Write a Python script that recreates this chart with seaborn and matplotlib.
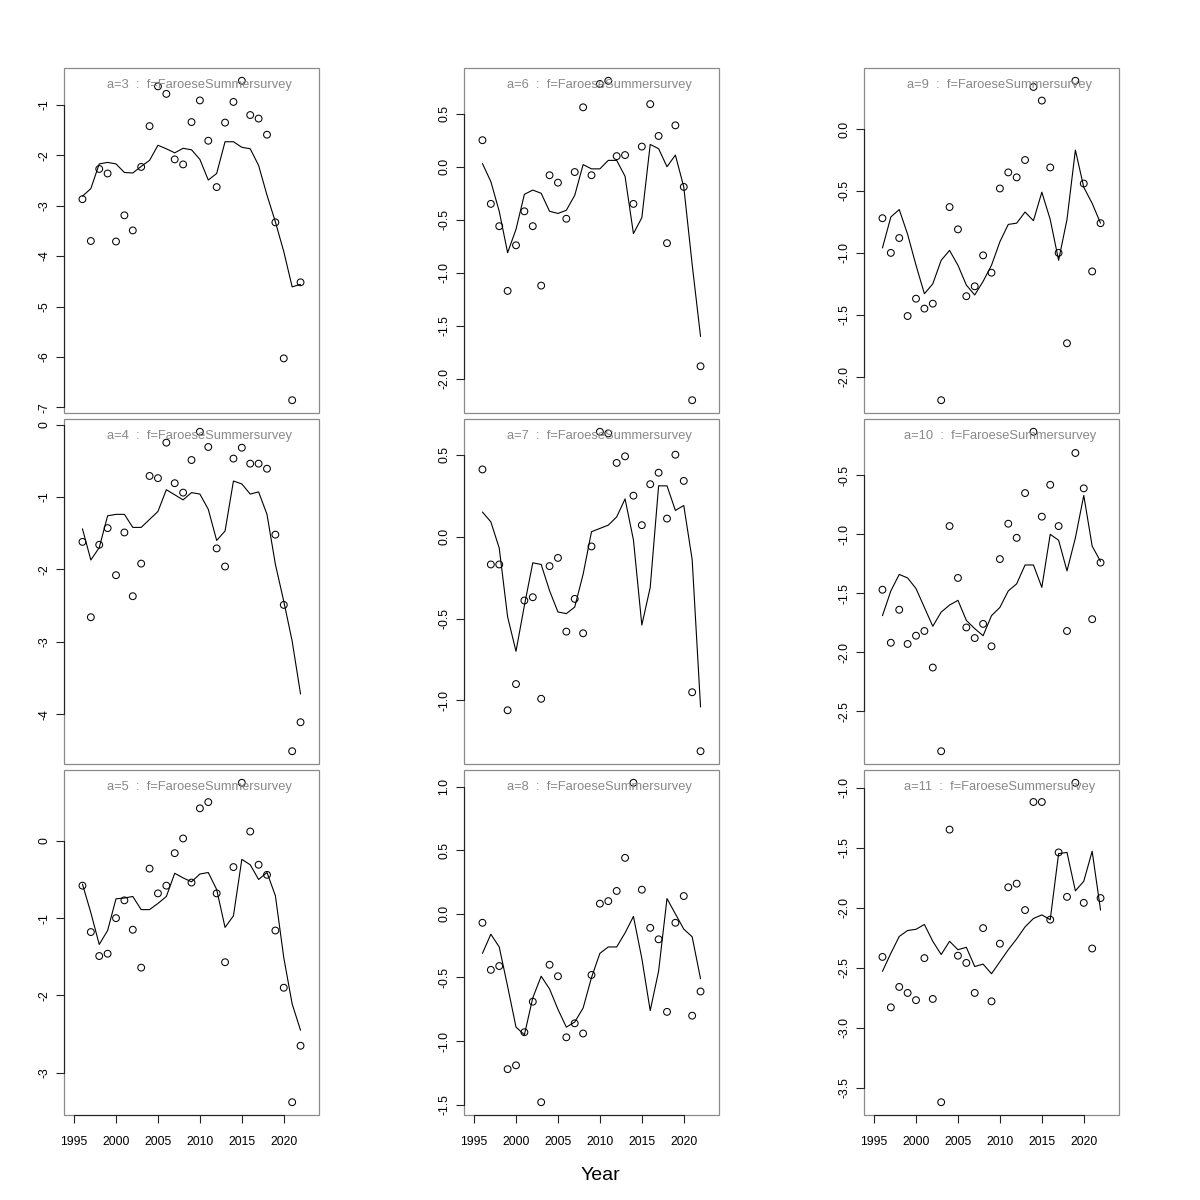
import matplotlib
matplotlib.use("Agg")
import matplotlib.pyplot as plt
import seaborn as sns
from matplotlib.patches import Rectangle

years = [1996, 1997, 1998, 1999, 2000, 2001, 2002, 2003, 2004, 2005, 2006, 2007, 2008, 2009,
         2010, 2011, 2012, 2013, 2014, 2015, 2016, 2017, 2018, 2019, 2020, 2021, 2022]
xticks = [1995, 2000, 2005, 2010, 2015, 2020]
fleet = "FaroeseSummersurvey"

obs_a3 = [-2.87, -3.70, -2.27, -2.36, -3.71, -3.19, -3.49, -2.23, -1.42, -0.63, -0.78, -2.08, -2.18, -1.34,
          -0.91, -1.71, -2.63, -1.35, -0.94, -0.52, -1.20, -1.27, -1.59, -3.33, -6.03, -6.86, -4.52]
fit_a3 = [-2.81, -2.66, -2.17, -2.14, -2.17, -2.34, -2.35, -2.22, -2.10, -1.80, -1.87, -1.95, -1.86, -1.89,
          -2.08, -2.49, -2.36, -1.73, -1.73, -1.84, -1.87, -2.20, -2.79, -3.32, -3.91, -4.61, -4.56]
yt_a3 = [-7, -6, -5, -4, -3, -2, -1]

obs_a4 = [-1.62, -2.66, -1.66, -1.43, -2.08, -1.49, -2.37, -1.92, -0.71, -0.74, -0.25, -0.81, -0.94, -0.49,
          -0.10, -0.31, -1.71, -1.96, -0.47, -0.32, -0.54, -0.54, -0.61, -1.52, -2.49, -4.51, -4.11]
fit_a4 = [-1.44, -1.87, -1.70, -1.26, -1.24, -1.24, -1.42, -1.42, -1.31, -1.20, -0.90, -0.97, -1.04, -0.94,
          -0.96, -1.17, -1.60, -1.47, -0.78, -0.82, -0.96, -0.93, -1.24, -1.93, -2.44, -2.99, -3.72]
yt_a4 = [-4, -3, -2, -1, 0]

obs_a5 = [-0.58, -1.18, -1.49, -1.46, -1.00, -0.77, -1.15, -1.64, -0.36, -0.68, -0.58, -0.16, 0.03, -0.54,
          0.42, 0.50, -0.68, -1.57, -0.34, 0.75, 0.12, -0.31, -0.44, -1.16, -1.90, -3.38, -2.65]
fit_a5 = [-0.56, -0.93, -1.34, -1.16, -0.75, -0.74, -0.72, -0.89, -0.89, -0.81, -0.72, -0.42, -0.48, -0.53,
          -0.43, -0.41, -0.63, -1.12, -0.97, -0.24, -0.31, -0.50, -0.41, -0.71, -1.51, -2.11, -2.45]
yt_a5 = [-3, -2, -1, 0]

obs_a6 = [0.25, -0.35, -0.56, -1.17, -0.74, -0.42, -0.56, -1.12, -0.08, -0.15, -0.49, -0.05, 0.56, -0.08,
          0.78, 0.81, 0.10, 0.11, -0.35, 0.19, 0.59, 0.29, -0.72, 0.39, -0.19, -2.20, -1.88]
fit_a6 = [0.03, -0.14, -0.42, -0.81, -0.59, -0.26, -0.22, -0.25, -0.42, -0.44, -0.41, -0.27, 0.02, -0.02,
          -0.02, 0.06, 0.06, -0.09, -0.63, -0.48, 0.21, 0.17, 0.00, 0.11, -0.19, -0.92, -1.60]
yt_a6 = [-2.0, -1.5, -1.0, -0.5, 0.0, 0.5]

obs_a7 = [0.41, -0.17, -0.17, -1.06, -0.90, -0.39, -0.37, -0.99, -0.18, -0.13, -0.58, -0.38, -0.59, -0.06,
          0.64, 0.63, 0.45, 0.49, 0.25, 0.07, 0.32, 0.39, 0.11, 0.50, 0.34, -0.95, -1.31]
fit_a7 = [0.15, 0.09, -0.07, -0.49, -0.70, -0.42, -0.16, -0.17, -0.33, -0.46, -0.47, -0.43, -0.23, 0.03,
          0.05, 0.07, 0.12, 0.23, -0.02, -0.54, -0.31, 0.31, 0.31, 0.16, 0.19, -0.14, -1.04]
yt_a7 = [-1.0, -0.5, 0.0, 0.5]

obs_a8 = [-0.07, -0.44, -0.41, -1.22, -1.19, -0.93, -0.69, -1.48, -0.40, -0.49, -0.97, -0.86, -0.94, -0.48,
          0.08, 0.10, 0.18, 0.44, 1.03, 0.19, -0.11, -0.20, -0.77, -0.07, 0.14, -0.80, -0.61]
fit_a8 = [-0.31, -0.16, -0.26, -0.57, -0.89, -0.95, -0.66, -0.49, -0.59, -0.75, -0.89, -0.85, -0.74, -0.50,
          -0.31, -0.26, -0.26, -0.15, -0.02, -0.35, -0.76, -0.45, 0.12, 0.00, -0.12, -0.18, -0.51]
yt_a8 = [-1.5, -1.0, -0.5, 0.0, 0.5, 1.0]

obs_a9 = [-0.72, -1.00, -0.88, -1.51, -1.37, -1.45, -1.41, -2.19, -0.63, -0.81, -1.35, -1.27, -1.02, -1.16,
          -0.48, -0.35, -0.39, -0.25, 0.34, 0.23, -0.31, -1.00, -1.73, 0.39, -0.44, -1.15, -0.76]
fit_a9 = [-0.96, -0.71, -0.65, -0.85, -1.10, -1.33, -1.25, -1.06, -0.98, -1.10, -1.26, -1.34, -1.23, -1.10,
          -0.91, -0.77, -0.76, -0.67, -0.74, -0.51, -0.73, -1.06, -0.73, -0.17, -0.47, -0.60, -0.76]
yt_a9 = [-2.0, -1.5, -1.0, -0.5, 0.0]

obs_a10 = [-1.47, -1.92, -1.64, -1.93, -1.86, -1.82, -2.13, -2.84, -0.93, -1.37, -1.79, -1.88, -1.76, -1.95,
           -1.21, -0.91, -1.03, -0.65, -0.13, -0.85, -0.58, -0.93, -1.82, -0.31, -0.61, -1.72, -1.24]
fit_a10 = [-1.69, -1.48, -1.34, -1.37, -1.46, -1.62, -1.78, -1.66, -1.60, -1.56, -1.73, -1.80, -1.86, -1.69,
           -1.62, -1.48, -1.42, -1.26, -1.26, -1.45, -1.00, -1.05, -1.31, -1.03, -0.67, -1.10, -1.23]
yt_a10 = [-2.5, -2.0, -1.5, -1.0, -0.5]

obs_a11 = [-2.41, -2.83, -2.66, -2.71, -2.77, -2.42, -2.76, -3.62, -1.35, -2.40, -2.46, -2.71, -2.17, -2.78,
           -2.30, -1.83, -1.80, -2.02, -1.12, -1.12, -2.10, -1.54, -1.91, -0.96, -1.96, -2.34, -1.92]
fit_a11 = [-2.53, -2.38, -2.24, -2.19, -2.18, -2.14, -2.28, -2.39, -2.28, -2.35, -2.33, -2.49, -2.47, -2.55,
           -2.45, -2.35, -2.26, -2.16, -2.09, -2.06, -2.10, -1.55, -1.54, -1.86, -1.78, -1.53, -2.02]
yt_a11 = [-3.5, -3.0, -2.5, -2.0, -1.5, -1.0]

panels = [
    (3, obs_a3, fit_a3, yt_a3, "%d"), (6, obs_a6, fit_a6, yt_a6, "%.1f"), (9, obs_a9, fit_a9, yt_a9, "%.1f"),
    (4, obs_a4, fit_a4, yt_a4, "%d"), (7, obs_a7, fit_a7, yt_a7, "%.1f"), (10, obs_a10, fit_a10, yt_a10, "%.1f"),
    (5, obs_a5, fit_a5, yt_a5, "%d"), (8, obs_a8, fit_a8, yt_a8, "%.1f"), (11, obs_a11, fit_a11, yt_a11, "%.1f"),
]

sns.set_theme(style="white")
plt.rcParams['font.family'] = ['Liberation Sans', 'DejaVu Sans']
plt.rcParams['axes.unicode_minus'] = False

W = H = 1200
fig = plt.figure(figsize=(12, 12), dpi=100)
fig.patch.set_facecolor('white')

col_left = [64, 464, 864]
row_top = [68, 419, 770]
pw, ph = 255, 345
frame_col = '#8a8a8a'
axis_col = '#222222'

for i, (age, obs, fit, yt, fmt) in enumerate(panels):
    r, c = divmod(i, 3)
    ax = fig.add_axes([col_left[c] / W, 1 - (row_top[r] + ph) / H, pw / W, ph / H])
    ax.set_facecolor('white')
    sns.lineplot(x=years, y=fit, ax=ax, color='black', linewidth=0.8, estimator=None)
    sns.scatterplot(x=years, y=obs, ax=ax, marker='o', s=24, facecolor='none',
                    edgecolor='black', linewidth=0.75, zorder=3)
    lo = min(min(obs), min(fit))
    hi = max(max(obs), max(fit))
    pad = 0.04 * (hi - lo)
    ax.set_ylim(lo - pad, hi + pad)
    ax.set_xlim(1993.8, 2024.2)
    ax.set_xlabel('')
    ax.set_ylabel('')
    ax.grid(False)

    for s in ['top', 'right']:
        ax.spines[s].set_visible(False)
    ax.add_patch(Rectangle((0, 0), 1, 1, transform=ax.transAxes, fill=False,
                           edgecolor=frame_col, linewidth=0.9, clip_on=False, zorder=2.4))
    ax.spines['left'].set_color(axis_col)
    ax.spines['left'].set_linewidth(0.8)
    ax.spines['left'].set_bounds(yt[0], yt[-1])

    ax.set_yticks(yt)
    ax.set_yticklabels([fmt % v for v in yt], rotation=90, va='center')
    ax.tick_params(axis='y', left=True, direction='out', length=5.8, width=0.8,
                   color=axis_col, labelsize=8.8, pad=4, labelcolor='black')

    if r == 2:
        ax.spines['bottom'].set_color(axis_col)
        ax.spines['bottom'].set_linewidth(0.8)
        ax.spines['bottom'].set_bounds(xticks[0], xticks[-1])
        ax.set_xticks(xticks)
        ax.set_xticklabels([str(v) for v in xticks])
        ax.tick_params(axis='x', bottom=True, direction='out', length=5.8, width=0.8,
                       color=axis_col, labelsize=8.8, pad=9, labelcolor='black')
    else:
        ax.spines['bottom'].set_visible(False)
        ax.set_xticks([])

    ax.text(0.533, 0.942, f"a={age}  :  f={fleet}", transform=ax.transAxes,
            ha='center', va='baseline', color='#888888', fontsize=9.3, zorder=4)

fig.text(0.5, 1 - 1180 / H, "Year", ha='center', va='baseline', fontsize=14, color='black')

fig.savefig("out.png", dpi=100, facecolor='white')
